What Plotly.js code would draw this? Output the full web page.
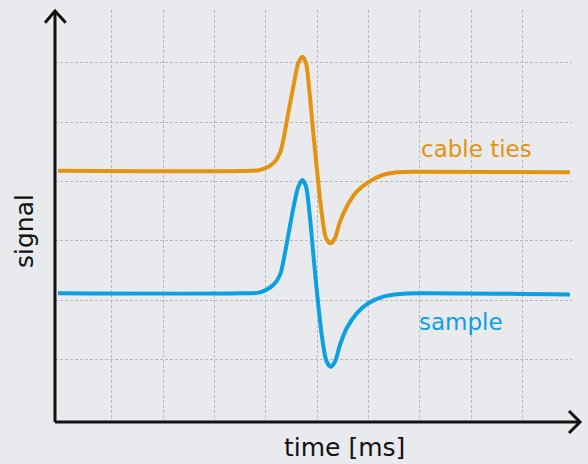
<!DOCTYPE html>
<html>
<head>
<meta charset="utf-8">
<script src="https://cdn.plot.ly/plotly-3.0.1.min.js"></script>
<style>html,body{margin:0;padding:0;background:#e9eaee;}#chart{width:588px;height:464px;}</style>
</head>
<body>
<div id="chart"></div>
<script>
// Data (time in grid units, signal in grid units)
var cableTiesTime = [-1.053, 2.495, 2.885, 3.144, 3.275, 3.339, 3.437, 3.534, 3.632, 3.710, 3.782, 3.846, 3.924, 4.002, 4.088, 4.172, 4.263, 4.347, 4.444, 4.575, 4.770, 4.965, 5.224, 5.550, 6.004, 8.928];
var cableTiesSignal = [4.180, 4.175, 4.192, 4.305, 4.478, 4.697, 5.152, 5.594, 5.993, 6.099, 5.993, 5.539, 4.815, 4.141, 3.468, 3.047, 2.958, 3.047, 3.322, 3.574, 3.827, 3.968, 4.091, 4.153, 4.163, 4.153];
var sampleTime = [-1.053, 2.495, 2.885, 3.144, 3.275, 3.339, 3.437, 3.534, 3.632, 3.710, 3.782, 3.860, 3.938, 4.021, 4.107, 4.185, 4.263, 4.347, 4.444, 4.575, 4.770, 4.996, 5.288, 5.614, 6.004, 8.928];
var sampleSignal = [2.116, 2.116, 2.133, 2.256, 2.424, 2.648, 3.098, 3.547, 3.911, 4.024, 3.911, 3.384, 2.648, 1.919, 1.301, 0.965, 0.880, 0.965, 1.246, 1.527, 1.779, 1.948, 2.059, 2.104, 2.116, 2.096];
var gridTimes = [0, 1, 2, 3, 4, 5, 6, 7, 8];
var gridSignals = [1, 2, 3, 4, 5, 6];
var seriesNames = ['cable ties', 'sample'];
var xLabel = 'time [ms]';
var yLabel = 'signal';

var orange = '#e3930f';
var blue = '#0ba0e2';
var font = '"DejaVu Sans", sans-serif';

var traces = [
  {x: cableTiesTime, y: cableTiesSignal, mode: 'lines', name: seriesNames[0],
   line: {color: orange, width: 4, shape: 'spline', smoothing: 0.8}, hoverinfo: 'skip'},
  {x: sampleTime, y: sampleSignal, mode: 'lines', name: seriesNames[1],
   line: {color: blue, width: 4, shape: 'spline', smoothing: 0.8}, hoverinfo: 'skip'}
];

var layout = {
  width: 588, height: 464,
  margin: {l: 55, r: 16, t: 10, b: 42},
  paper_bgcolor: '#e9eaee', plot_bgcolor: '#e9eaee',
  showlegend: false,
  xaxis: {range: [-1.111, 8.967], tickvals: gridTimes, showticklabels: false, ticks: '',
          showgrid: true, gridcolor: '#b9b9bc', gridwidth: 1, griddash: '3px,2px',
          zeroline: false, showline: false, fixedrange: true},
  yaxis: {range: [-0.0505, 6.886], tickvals: gridSignals, showticklabels: false, ticks: '',
          showgrid: true, gridcolor: '#b9b9bc', gridwidth: 1, griddash: '3px,2px',
          zeroline: false, showline: false, fixedrange: true},
  shapes: [
    {type: 'path', xref: 'paper', yref: 'paper', path: 'M 0 0 L 0 0.9976', line: {color: '#111', width: 3}, layer: 'above'},
    {type: 'path', xref: 'paper', yref: 'paper', path: 'M -0.0193 0.9692 L 0 0.9976 L 0.0207 0.9692', line: {color: '#111', width: 3}, layer: 'above'},
    {type: 'path', xref: 'paper', yref: 'paper', path: 'M 0 0 L 1.0155 0', line: {color: '#111', width: 3}, layer: 'above'},
    {type: 'path', xref: 'paper', yref: 'paper', path: 'M 0.9942 0.0267 L 1.0155 0 L 0.9942 -0.0267', line: {color: '#111', width: 3}, layer: 'above'}
  ],
  annotations: [
    {text: xLabel, xref: 'paper', yref: 'paper', x: 0.559, y: -0.063, xanchor: 'center', yanchor: 'middle',
     showarrow: false, font: {family: font, size: 25, color: '#111'}},
    {text: yLabel, xref: 'paper', yref: 'paper', x: -0.058, y: 0.4636, xanchor: 'center', yanchor: 'middle',
     textangle: -90, showarrow: false, font: {family: font, size: 25, color: '#111'}},
    {text: seriesNames[0], xref: 'x', yref: 'y', x: 5.984, y: 4.545, xanchor: 'left', yanchor: 'middle',
     showarrow: false, font: {family: font, size: 23, color: orange}},
    {text: seriesNames[1], xref: 'x', yref: 'y', x: 5.94, y: 1.64, xanchor: 'left', yanchor: 'middle',
     showarrow: false, font: {family: font, size: 23, color: blue}}
  ]
};

Plotly.newPlot('chart', traces, layout, {displayModeBar: false, staticPlot: true});
</script>
</body>
</html>
